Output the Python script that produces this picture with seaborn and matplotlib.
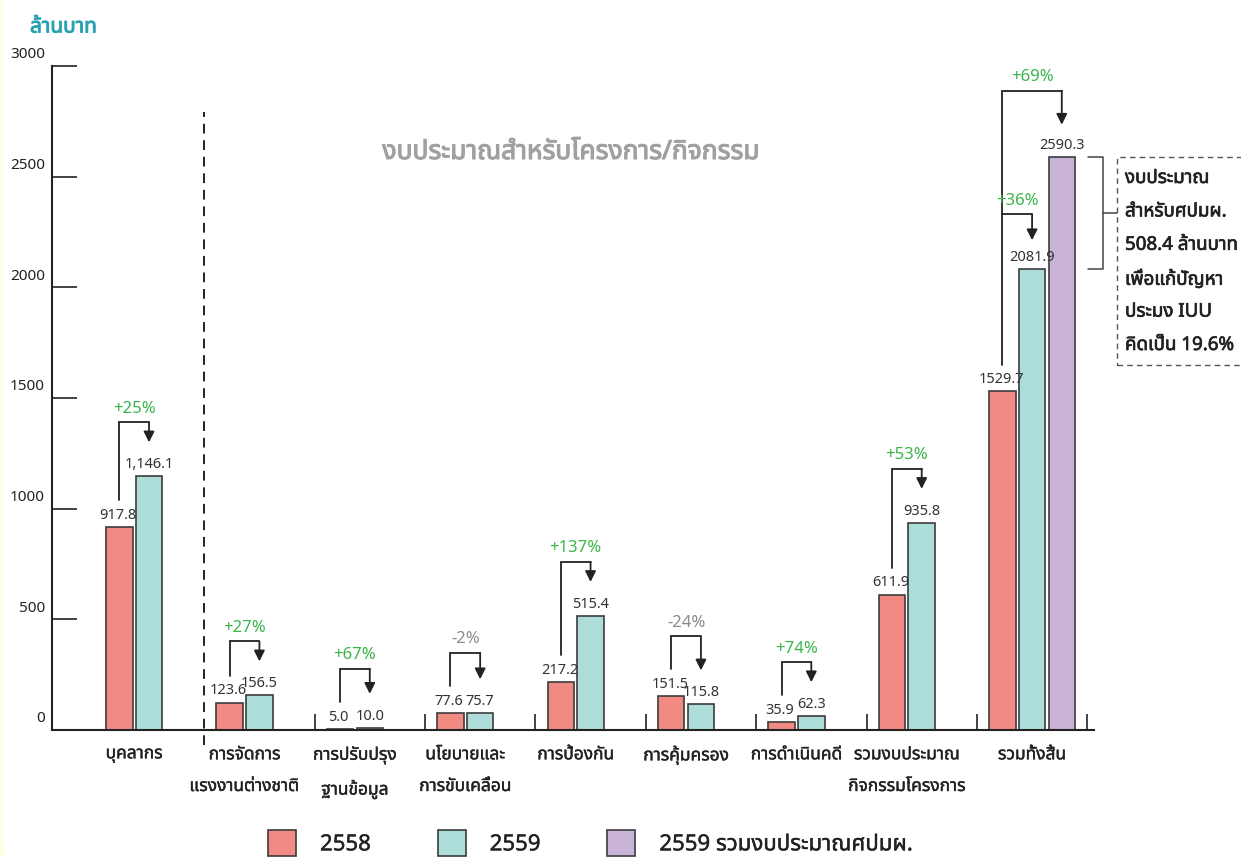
import numpy as np
import pandas as pd
import matplotlib
matplotlib.use("Agg")
import matplotlib.pyplot as plt
import matplotlib.transforms as mtransforms
import matplotlib.patheffects as pe
from matplotlib import font_manager
from matplotlib.ft2font import FT2Font
from matplotlib.patches import Patch, Rectangle, FancyBboxPatch
import seaborn as sns

# -------------------------
# Data (ล้านบาท)
# -------------------------
categories = ["บุคลากร", "การจัดการ\nแรงงานต่างชาติ", "การปรับปรุง\nฐานข้อมูล",
              "นโยบายและ\nการขับเคลื่อน", "การป้องกัน", "การคุ้มครอง",
              "การดำเนินคดี", "รวมงบประมาณ\nกิจกรรมโครงการ", "รวมทั้งสิ้น"]
budget_2558 = [917.8, 123.6, 5.0, 77.6, 217.2, 151.5, 35.9, 611.9, 1529.7]
budget_2559 = [1146.1, 156.5, 10.0, 75.7, 515.4, 115.8, 62.3, 935.8, 2081.9]
budget_2559_total = [2590.3]          # only for the last group
labels_2558 = ["917.8", "123.6", "5.0", "77.6", "217.2", "151.5", "35.9", "611.9", "1529.7"]
labels_2559 = ["1,146.1", "156.5", "10.0", "75.7", "515.4", "115.8", "62.3", "935.8", "2081.9"]
labels_total = ["2590.3"]
changes = ["+25%", "+27%", "+67%", "-2%", "+137%", "-24%", "+74%", "+53%", "+36%"]
change_total = "+69%"
series_names = ["2558", "2559", "2559 รวมงบประมาณศปมผ."]
note_lines = ["งบประมาณ", "สำหรับศปมผ.", "508.4 ล้านบาท", "เพื่อแก้ปัญหา", "ประมง IUU", "คิดเป็น 19.6%"]
y_ticks = [0, 500, 1000, 1500, 2000, 2500, 3000]

# colours
RED = "#f28a84"
TEAL = "#acddd9"
PURPLE = "#c9b4d8"
EDGE = "#3c3c3c"
INK = "#222222"
GREEN = "#3bb54a"
NEG = "#8a8a8a"

# -------------------------
# Fonts (need a Thai capable family)
# -------------------------
sns.set_theme(style="white")


def find_thai_font():
    names = sorted({f.name for f in font_manager.fontManager.ttflist if "Thai" in f.name})
    for pref in ["Noto Sans Thai", "Noto Sans Thai UI", "Noto Sans Thai Looped"]:
        if pref in names:
            return pref
    if names:
        return names[0]
    for f in font_manager.fontManager.ttflist:
        try:
            if 0x0E01 in FT2Font(f.fname).get_charmap():
                return f.name
        except Exception:
            continue
    return None


thai_font = find_thai_font()
families = ["Noto Sans"] + ([thai_font] if thai_font else []) + ["DejaVu Sans"]
plt.rcParams["font.family"] = families


def heavy(color, w=0.8):
    # thai font has no bold face here, fake it with a thin stroke
    return [pe.withStroke(linewidth=w, foreground=color)]


# -------------------------
# Figure / axes geometry
# -------------------------
W, H = 1241, 857
fig = plt.figure(figsize=(W / 100, H / 100), dpi=100)
fig.patch.set_facecolor("#fffde2")
fig.add_artist(FancyBboxPatch((3, -10), 1400, 1000, boxstyle="round,pad=0,rounding_size=25",
                              transform=mtransforms.IdentityTransform(),
                              facecolor="white", edgecolor="none", zorder=0))

ax = fig.add_axes([52 / W, 127 / H, (1094 - 52) / W, 664 / H])
ax.patch.set_alpha(0)

PX = 500 / 110.7      # data units per pixel on the y axis
STEP = 0.269          # offset between bars inside a group
BW = 0.24             # bar width

n = len(categories)
pos = np.arange(n, dtype=float)

df58 = pd.DataFrame({"pos": pos, "value": budget_2558})
df59 = pd.DataFrame({"pos": pos + STEP, "value": budget_2559})
dftot = pd.DataFrame({"pos": [n - 1 + 2 * STEP], "value": budget_2559_total})

for d, c in [(df58, RED), (df59, TEAL), (dftot, PURPLE)]:
    sns.barplot(data=d, x="pos", y="value", orient="x", native_scale=True, width=BW,
                color=c, saturation=1, edgecolor=EDGE, linewidth=1.2, ax=ax)

ax.set_xlim(-0.61, 8.83)
ax.set_ylim(0, 3000)
ax.set_xlabel("")
ax.set_ylabel("")

# spines
for s in ["top", "right"]:
    ax.spines[s].set_visible(False)
for s in ["left", "bottom"]:
    ax.spines[s].set_color(INK)
    ax.spines[s].set_linewidth(1.5)

# y ticks (labels sit above the tick)
ax.set_yticks(y_ticks)
ax.set_yticklabels([str(t) for t in y_ticks])
ax.tick_params(axis="y", direction="in", length=18, width=1.2, color=INK,
               pad=5, labelsize=11, labelcolor=INK, left=True)
shift = mtransforms.ScaledTranslation(0, 13 / 100, fig.dpi_scale_trans)
for lab in ax.get_yticklabels():
    lab.set_transform(lab.get_transform() + shift)

# x: separator ticks (major) and category labels (minor)
seps = [i - 0.23 for i in range(2, n + 1)]
centers = [i + STEP / 2 for i in range(n - 1)] + [n - 1 + STEP]
ax.set_xticks(seps)
ax.set_xticklabels([])
ax.set_xticks(centers, minor=True)
cat_labels = ax.set_xticklabels(categories, minor=True, fontsize=12.5, color=INK,
                                linespacing=1.98)
for t in cat_labels:
    t.set_path_effects(heavy(INK, 0.3))
ax.tick_params(axis="x", which="major", direction="in", length=11.5, width=1.2,
               color=INK, bottom=True)
ax.tick_params(axis="x", which="minor", length=0, pad=11, bottom=True)
ax.grid(False)

# dashed separator between personnel and projects
ax.plot([1 - 0.23, 1 - 0.23], [-15 * PX, 618 * PX], color=INK, lw=1.4,
        ls=(0, (5, 3.5)), clip_on=False)

# value labels
for i in range(n):
    ax.annotate(labels_2558[i], (pos[i], budget_2558[i]), xytext=(-1, 3),
                textcoords="offset points", ha="center", va="bottom", fontsize=10.5, color="#333")
    ax.annotate(labels_2559[i], (pos[i] + STEP, budget_2559[i]), xytext=(0, 3),
                textcoords="offset points", ha="center", va="bottom", fontsize=10.5, color="#333")
ax.annotate(labels_total[0], (n - 1 + 2 * STEP, budget_2559_total[0]), xytext=(0, 3),
            textcoords="offset points", ha="center", va="bottom", fontsize=10.5, color="#333")


def elbow_arrow(x0, y_start, x1, y_tip, y_elbow):
    ax.plot([x0, x0, x1], [y_start, y_elbow, y_elbow], color=INK, lw=1.3,
            solid_joinstyle="miter", clip_on=False)
    ax.annotate("", xy=(x1, y_tip), xytext=(x1, y_elbow),
                arrowprops=dict(arrowstyle="-|>", color=INK, lw=1.3,
                                mutation_scale=16, shrinkA=0, shrinkB=0))


def change_text(txt, x, y):
    col = NEG if txt.startswith("-") else GREEN
    ax.annotate(txt, (x, y), xytext=(0, 4), textcoords="offset points",
                ha="center", va="bottom", fontsize=12, color=col)


# change arrows for the normal groups
for i in range(n - 1):
    start = budget_2558[i] + 27 * PX
    tip = budget_2559[i] + 34 * PX
    elbow = max(start + 33 * PX, tip + 20 * PX)
    elbow_arrow(pos[i], start, pos[i] + STEP, tip, elbow)
    change_text(changes[i], pos[i] + STEP / 2, elbow)

# last group: two arrows from the 2558 total
i = n - 1
start = budget_2558[i] + 26 * PX
tip36 = budget_2559[i] + 29 * PX
elbow36 = tip36 + 26 * PX
tip69 = budget_2559_total[0] + 32 * PX
elbow69 = tip69 + 34 * PX
elbow_arrow(pos[i], start, pos[i] + 2 * STEP, tip69, elbow69)
elbow_arrow(pos[i], elbow36, pos[i] + STEP, tip36, elbow36)
change_text(changes[i], pos[i] + STEP / 2, elbow36)
change_text(change_total, pos[i] + STEP, elbow69)

# bracket for the ศปมผ. share (difference of the two 2559 bars)
bx0, bx1, bx2 = 8.774, 8.910, 9.037
top_v, low_v = budget_2559_total[0], budget_2559[i]
ax.plot([bx0, bx1, bx1, bx0], [top_v, top_v, low_v, low_v], color="#444", lw=1.1, clip_on=False)
ax.plot([bx1, bx2], [(top_v + low_v) / 2, (top_v + low_v) / 2], color="#444", lw=1.1, clip_on=False)
ax.add_patch(Rectangle((bx2, start), 3, top_v - start, fill=False, edgecolor="#555",
                       lw=1.0, ls=(0, (4, 3)), clip_on=False))
for k, line in enumerate(note_lines):
    fig.text(1125 / W, 1 - (178 + 33.4 * k) / H, line, ha="left", va="center",
             fontsize=13.5, fontweight="semibold", color=INK, path_effects=heavy(INK, 0.5))

# titles
fig.text(30 / W, 1 - 27 / H, "ล้านบาท", ha="left", va="center", fontsize=15,
         fontweight="bold", color="#2aa2b4", path_effects=heavy("#2aa2b4", 0.7))
fig.text(571 / W, 1 - 152 / H, "งบประมาณสำหรับโครงการ/กิจกรรม", ha="center", va="center",
         fontsize=19, fontweight="bold", color="#a0a0a0", path_effects=heavy("#a0a0a0", 0.8))

# legend
handles = [Patch(facecolor=c, edgecolor=EDGE, linewidth=1.2) for c in [RED, TEAL, PURPLE]]
leg = fig.legend(handles, series_names, loc="center left", bbox_to_anchor=(268 / W, 14 / H),
                 ncol=3, frameon=False, fontsize=16, handlelength=1.26, handleheight=1.45,
                 handletextpad=1.08, columnspacing=3.0, borderpad=0, borderaxespad=0,
                 labelcolor=INK)
for t in leg.get_texts():
    t.set_path_effects(heavy(INK, 0.3))

fig.savefig("out.png", dpi=100)
